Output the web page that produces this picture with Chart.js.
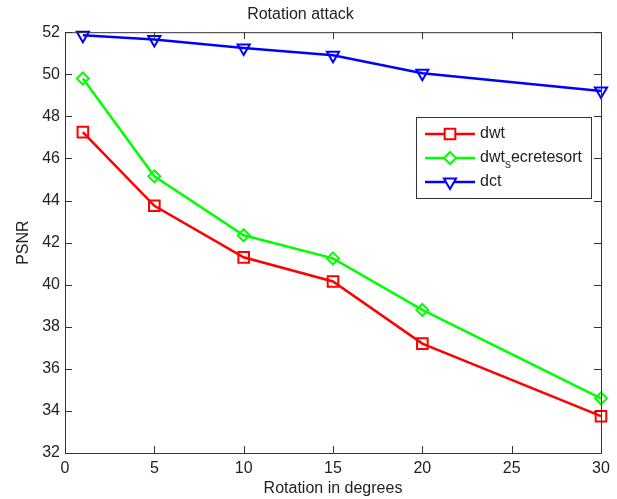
<!DOCTYPE html>
<html>
<head>
<meta charset="utf-8">
<title>Rotation attack</title>
<script src="https://cdn.jsdelivr.net/npm/chart.js@4.4.0/dist/chart.umd.min.js"></script>
<style>
  body { margin: 0; background: #fff; }
  #wrap { width: 617px; height: 499px; }
</style>
</head>
<body>
<div id="wrap"><canvas id="myChart" width="617" height="499"></canvas></div>
<script>
// data
const angles = [1, 5, 10, 15, 20, 30];
const dwtValues = [47.25, 43.75, 41.3, 40.15, 37.2, 33.75];
const dwtSecretValues = [49.8, 45.15, 42.35, 41.25, 38.8, 34.6];
const dctValues = [51.85, 51.65, 51.25, 50.9, 50.05, 49.2];
const seriesNames = ['dwt', 'dwt_secretesort', 'dct'];
const xTicks = [0, 5, 10, 15, 20, 25, 30];
const yTicks = [32, 34, 36, 38, 40, 42, 44, 46, 48, 50, 52];

const FONT = "'Liberation Sans', Arial, sans-serif";
const TXT = '#222';

function pts(vals) {
  return angles.map((a, i) => ({ x: a, y: vals[i] }));
}

// matlab style box, inward ticks and legend inside the axes
const matlabBox = {
  id: 'matlabBox',
  afterDraw(chart) {
    const { ctx, chartArea: a, scales } = chart;
    const tl = 7;
    ctx.save();
    ctx.strokeStyle = '#333';
    ctx.lineWidth = 1;
    ctx.beginPath();
    ctx.rect(a.left + 0.5, a.top + 0.5, a.right - a.left, a.bottom - a.top);
    xTicks.forEach(v => {
      const px = Math.round(scales.x.getPixelForValue(v)) + 0.5;
      ctx.moveTo(px, a.bottom); ctx.lineTo(px, a.bottom - tl);
      ctx.moveTo(px, a.top); ctx.lineTo(px, a.top + tl);
    });
    yTicks.forEach(v => {
      const py = Math.round(scales.y.getPixelForValue(v)) + 0.5;
      ctx.moveTo(a.left, py); ctx.lineTo(a.left + tl, py);
      ctx.moveTo(a.right, py); ctx.lineTo(a.right - tl, py);
    });
    ctx.stroke();

    // legend
    const bx = 416, by = 117, bw = 175, bh = 81;
    ctx.fillStyle = '#fff';
    ctx.fillRect(bx, by, bw, bh);
    ctx.strokeStyle = '#333';
    ctx.strokeRect(bx + 0.5, by + 0.5, bw, bh);
    chart.data.datasets.forEach((ds, i) => {
      const y = by + 17 + i * 24;
      ctx.strokeStyle = ds.borderColor;
      ctx.lineWidth = 2.5;
      ctx.beginPath();
      ctx.moveTo(bx + 9, y); ctx.lineTo(bx + 59, y);
      ctx.stroke();
      ctx.fillStyle = '#fff';
      ctx.lineWidth = 2;
      Chart.helpers.drawPoint(ctx, {
        pointStyle: ds.pointStyle,
        radius: ds.pointRadius,
        rotation: ds.pointRotation || 0,
        borderWidth: 2
      }, bx + 34, y);
      ctx.fillStyle = TXT;
      ctx.textBaseline = 'middle';
      ctx.textAlign = 'left';
      ctx.font = '16px ' + FONT;
      const name = seriesNames[i];
      const tx = bx + 64;
      if (name.indexOf('_') > 0) {
        const [head, tail] = name.split('_');
        ctx.fillText(head, tx, y);
        let w = ctx.measureText(head).width;
        ctx.font = '12px ' + FONT;
        ctx.fillText(tail[0], tx + w, y + 7);
        w += ctx.measureText(tail[0]).width;
        ctx.font = '16px ' + FONT;
        ctx.fillText(tail.slice(1), tx + w, y);
      } else {
        ctx.fillText(name, tx, y);
      }
    });
    ctx.restore();
  }
};

function line(label, vals, color, style, radius, rot) {
  return {
    label: label,
    data: pts(vals),
    borderColor: color,
    backgroundColor: color,
    borderWidth: 2.5,
    pointStyle: style,
    pointRadius: radius,
    pointHoverRadius: radius,
    pointRotation: rot,
    pointBorderWidth: 2,
    pointBackgroundColor: 'rgba(0,0,0,0)',
    pointBorderColor: color,
    tension: 0,
    fill: false,
    clip: false
  };
}

const ctx = document.getElementById('myChart');

new Chart(ctx, {
  type: 'line',
  data: {
    datasets: [
      line(seriesNames[0], dwtValues, '#ff0000', 'rect', 7.5, 0),
      line(seriesNames[1], dwtSecretValues, '#00ff00', 'rectRot', 6, 0),
      line(seriesNames[2], dctValues, '#0000ff', 'triangle', 7, 180)
    ]
  },
  options: {
    responsive: false,
    animation: false,
    layout: { padding: { left: 0, right: 16, top: 0, bottom: 0 } },
    plugins: {
      legend: { display: false },
      tooltip: { enabled: false },
      title: {
        display: true,
        text: 'Rotation attack',
        color: TXT,
        font: { family: FONT, size: 16, weight: 'normal' },
        padding: { top: 5, bottom: 8 }
      }
    },
    scales: {
      x: {
        type: 'linear',
        min: 0,
        max: 30,
        afterBuildTicks: s => { s.ticks = xTicks.map(v => ({ value: v })); },
        afterFit: s => { s.height = 46; },
        grid: { display: false, drawTicks: false, tickLength: 0 },
        border: { display: false },
        ticks: { color: TXT, padding: 6, font: { family: FONT, size: 16 } },
        title: {
          display: true,
          text: 'Rotation in degrees',
          color: TXT,
          font: { family: FONT, size: 16 },
          padding: { top: 0, bottom: 1 }
        }
      },
      y: {
        min: 32,
        max: 52,
        afterBuildTicks: s => { s.ticks = yTicks.map(v => ({ value: v })); },
        afterFit: s => { s.width = 65; },
        grid: { display: false, drawTicks: false, tickLength: 0 },
        border: { display: false },
        ticks: { color: TXT, padding: 5, font: { family: FONT, size: 16 } },
        title: {
          display: true,
          text: 'PSNR',
          color: TXT,
          font: { family: FONT, size: 16 },
          padding: { top: 14, bottom: 0 }
        }
      }
    }
  },
  plugins: [matlabBox]
});
</script>
</body>
</html>
